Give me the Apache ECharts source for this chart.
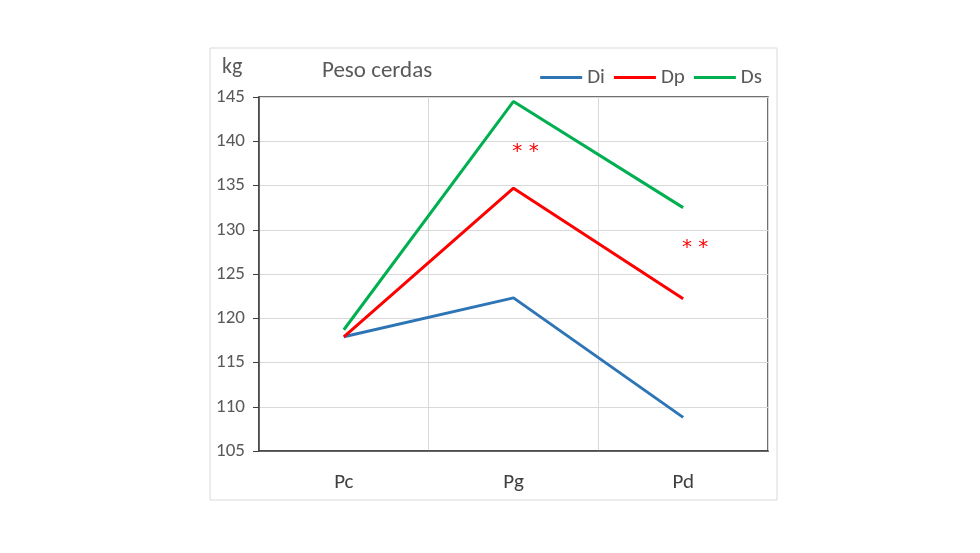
<!DOCTYPE html>
<html>
<head>
<meta charset="utf-8">
<script src="https://cdn.jsdelivr.net/npm/echarts@6/dist/echarts.min.js"></script>
<style>
  html, body { margin: 0; padding: 0; background: #fff; }
  #chart { width: 980px; height: 553px; }
</style>
</head>
<body>
<div id="chart"></div>
<script>
var categories = ['Pc', 'Pg', 'Pd'];
var di = [117.9, 122.3, 108.8];
var dp = [117.9, 134.7, 122.2];
var ds = [118.7, 144.5, 132.5];
// asterisk notes: [category, value]
var notes = [['Pg', 139.1], ['Pd', 128.3]];

var font = 'Calibri, Carlito, "Open Sans", "Noto Sans", sans-serif';
var grey = '#595959';

function lineSeries(name, data, color) {
  return {
    name: name,
    type: 'line',
    data: data,
    symbol: 'none',
    lineStyle: { color: color, width: 3 },
    itemStyle: { color: color },
    animation: false
  };
}

var chart = echarts.init(document.getElementById('chart'));
var series = [
  lineSeries('Di', di, '#2e75b6'),
  lineSeries('Dp', dp, '#ff0000'),
  lineSeries('Ds', ds, '#00b050')
];
series[1].markPoint = {
  symbol: 'circle',
  symbolSize: 0,
  label: {
    show: true,
    formatter: '* *',
    color: '#ff0000',
    fontSize: 20,
    fontFamily: '"DejaVu Sans", sans-serif',
    offset: [12, 3]
  },
  data: notes.map(function (n) { return { coord: n }; })
};

chart.setOption({
  backgroundColor: '#fff',
  textStyle: { fontFamily: font },
  graphic: [{
    type: 'rect',
    shape: { x: 210, y: 48, width: 567, height: 452 },
    style: { fill: 'none', stroke: '#d9d9d9', lineWidth: 1 },
    z: -1
  }, {
    type: 'text',
    left: 222, top: 56,
    style: { text: 'kg', fill: grey, fontSize: 22, fontFamily: font }
  }, {
    type: 'text',
    left: 322, top: 60,
    style: { text: 'Peso cerdas', fill: grey, fontSize: 23, fontFamily: font }
  }],
  legend: {
    right: 213,
    top: 62,
    icon: 'rect',
    itemWidth: 42,
    itemHeight: 3,
    itemGap: 9,
    textStyle: { color: grey, fontSize: 21, fontFamily: font },
    data: ['Di', 'Dp', 'Ds']
  },
  grid: {
    left: 259, right: 212, top: 97, bottom: 102,
    show: true,
    borderColor: '#404040',
    borderWidth: 1.5
  },
  xAxis: {
    type: 'category',
    data: categories,
    boundaryGap: true,
    axisLine: { lineStyle: { color: '#404040', width: 1.5 } },
    axisTick: { show: false },
    axisLabel: { color: '#404040', fontSize: 21, margin: 21, fontFamily: font },
    splitLine: { show: true, lineStyle: { color: '#d9d9d9', width: 1 } }
  },
  yAxis: {
    type: 'value',
    min: 105,
    max: 145,
    interval: 5,
    axisLine: { show: true, lineStyle: { color: '#404040', width: 1.5 } },
    axisTick: { show: true, length: 6, lineStyle: { color: '#404040' } },
    axisLabel: { color: grey, fontSize: 19, margin: 14, fontFamily: font },
    splitLine: { show: true, lineStyle: { color: '#d9d9d9', width: 1 } }
  },
  series: series
});
</script>
</body>
</html>
